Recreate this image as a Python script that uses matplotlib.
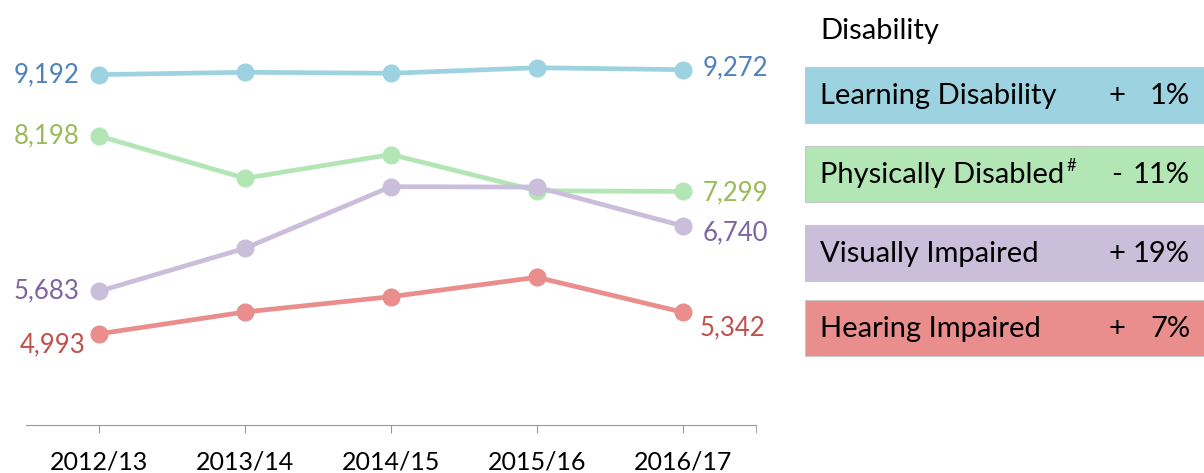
import matplotlib.pyplot as plt
from matplotlib.patches import Rectangle

plt.rcParams["font.family"] = ["Lato", "DejaVu Sans"]

years = ["2012/13", "2013/14", "2014/15", "2015/16", "2016/17"]
learning = [9192, 9230, 9214, 9304, 9272]
physical = [8198, 7513, 7898, 7310, 7299]
visual = [5683, 6379, 7377, 7370, 6740]
hearing = [4993, 5347, 5595, 5909, 5342]

legend_labels = ["Learning Disability", "Physically Disabled", "Visually Impaired", "Hearing Impaired"]
legend_signs = ["+", "-", "+", "+"]
legend_pcts = ["1%", "11%", "19%", "7%"]

W, H = 1204, 473
fig = plt.figure(figsize=(W / 100, H / 100), dpi=100)
ax = fig.add_axes([26 / W, (H - 425) / H, 730 / W, 425 / H])

series = [
    (learning, "#9dd3e0", "#4f81bd", (-14, 0), (14, 1)),
    (physical, "#b3e6b5", "#9bbb59", (-14, 0), (14, -1)),
    (visual, "#cbbedb", "#8064a2", (-14, 0), (14, -5)),
    (hearing, "#e98d8d", "#c0504d", (-10, -8), (12, -11)),
]

x = range(len(years))
for values, color, label_color, left_off, right_off in series:
    ax.plot(x, values, color=color, lw=3.4, marker="o", ms=12,
            solid_capstyle="round", zorder=3)
    ax.annotate(f"{values[0]:,}", (0, values[0]), xytext=left_off,
                textcoords="offset points", ha="right", va="center",
                fontsize=18.5, color=label_color)
    ax.annotate(f"{values[-1]:,}", (len(years) - 1, values[-1]), xytext=right_off,
                textcoords="offset points", ha="left", va="center",
                fontsize=18.5, color=label_color)

ax.set_xlim(-0.5, 4.5)
ax.set_ylim(3516, 10401)
ax.set_xticks(list(x))
ax.set_xticklabels(years, fontsize=18)
ax.set_xticks([4.5], minor=True)
ax.tick_params(axis="x", which="both", length=6, color="#999999", pad=12)
ax.set_yticks([])
for side in ["top", "right", "left"]:
    ax.spines[side].set_visible(False)
ax.spines["bottom"].set_color("#999999")

# legend panel on the right
fig.text(820 / W, 1 - 31 / H, "Disability", fontsize=21, va="center", ha="left")
box_tops = [67, 146, 225, 300]
box_colors = ["#9dd3e0", "#b3e6b5", "#cbbedb", "#e98d8d"]
renderer = fig.canvas.get_renderer()
for top, color, label, sign, pct in zip(box_tops, box_colors, legend_labels, legend_signs, legend_pcts):
    fig.patches.append(Rectangle((805 / W, 1 - (top + 56) / H), 400 / W, 56 / H,
                                 transform=fig.transFigure, facecolor=color,
                                 edgecolor="#c8c8c8", lw=0.8))
    yc = 1 - (top + 29) / H
    t = fig.text(820 / W, yc, label, fontsize=21, va="center", ha="left")
    fig.text(1117 / W, yc, sign, fontsize=21, va="center", ha="center")
    fig.text(1190 / W, yc, pct, fontsize=21, va="center", ha="right")
    if label == "Physically Disabled":
        x1 = t.get_window_extent(renderer=renderer).x1
        fig.text((x1 + 2) / W, yc + 9 / H, "#", fontsize=12, va="center", ha="left")

fig.savefig("out.png", dpi=100)
